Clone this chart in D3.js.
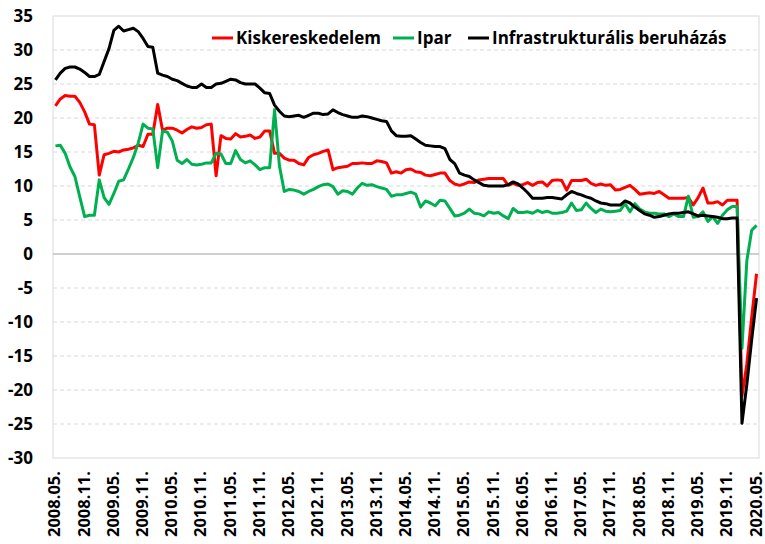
<!DOCTYPE html>
<html>
<head>
<meta charset="utf-8">
<script src="https://cdn.jsdelivr.net/npm/d3@7"></script>
<style>
    body { margin: 0; background: #fff; }
    text { font-family: "Open Sans", "Liberation Sans", sans-serif; font-weight: bold; fill: #000; }
</style>
</head>
<body>
<svg></svg>
<script>
// series names and colours
const seriesNames = ["Kiskereskedelem", "Ipar", "Infrastrukturális beruházás"]
const seriesColors = ["#ff0000", "#00b050", "#000000"]

// monthly values, 2008.05 - 2020.05
const kiskereskedelem = [
    21.8, 22.8, 23.3, 23.2, 23.2, 22.3, 20.9, 19.1, 19.0, 11.6, 14.6, 14.8, 15.1, 15.0, 15.3, 15.4, 15.6, 16.0, 15.8, 17.6, 17.6, 22.0, 18.2, 18.5, 18.5,
    18.2, 17.8, 18.3, 18.7, 18.5, 18.6, 19.0, 19.1, 11.5, 17.4, 17.0, 16.9, 17.7, 17.2, 17.3, 17.5, 17.0, 17.2, 18.1, 18.1, 14.8, 14.8, 14.1, 13.8,
    13.8, 13.3, 13.1, 14.2, 14.6, 14.8, 15.1, 15.3, 12.4, 12.7, 12.8, 12.9, 13.3, 13.3, 13.4, 13.3, 13.3, 13.7, 13.6, 13.4, 11.9, 12.1, 11.9, 12.4, 12.5,
    12.1, 12.0, 11.6, 11.5, 11.7, 11.9, 11.9, 10.8, 10.3, 10.1, 10.3, 10.6, 10.5, 10.9, 11.0, 11.1, 11.1, 11.1, 11.1, 10.1, 10.4, 10.1, 10.2, 10.5,
    10.1, 10.5, 10.6, 10.0, 10.8, 10.9, 10.8, 9.4, 10.8, 10.8, 10.8, 11.0, 10.4, 10.1, 10.3, 10.1, 10.2, 9.4, 9.5, 9.8, 10.1, 9.5, 8.8, 8.9,
    9.0, 8.9, 9.2, 8.7, 8.2, 8.2, 8.2, 8.2, 8.3, 7.2, 8.3, 9.7, 7.5, 7.5, 7.7, 7.2, 7.9, 7.9, 7.9, -20.9, -16.2, -9.3, -2.9
]
const ipar = [
    15.9, 16.0, 14.8, 12.8, 11.4, 8.4, 5.5, 5.7, 5.7, 10.9, 8.3, 7.3, 8.9, 10.7, 10.9, 12.5, 14.2, 16.3, 19.1, 18.5, 18.4, 12.7, 18.1, 17.9, 16.6,
    13.8, 13.3, 13.9, 13.2, 13.1, 13.2, 13.4, 13.4, 14.8, 14.7, 13.3, 13.3, 15.2, 13.9, 13.4, 13.7, 13.1, 12.4, 12.7, 12.7, 21.2, 13.0, 9.2, 9.5,
    9.4, 9.2, 8.8, 9.2, 9.5, 9.9, 10.2, 10.3, 9.9, 8.8, 9.3, 9.2, 8.8, 9.7, 10.4, 10.1, 10.2, 9.9, 9.7, 9.5, 8.5, 8.7, 8.7, 8.9, 9.1,
    8.8, 6.9, 7.8, 7.5, 7.1, 7.9, 7.8, 6.7, 5.6, 5.7, 6.0, 6.6, 6.0, 5.9, 5.6, 6.2, 6.0, 6.1, 5.6, 5.2, 6.7, 6.1, 6.1, 6.2,
    6.0, 6.4, 6.1, 6.3, 6.0, 6.0, 6.1, 6.3, 7.5, 6.4, 6.5, 7.5, 6.7, 6.1, 6.6, 6.3, 6.2, 6.3, 6.4, 7.4, 6.2, 7.4, 6.6, 6.2,
    6.0, 6.0, 5.9, 5.9, 5.5, 5.9, 5.5, 5.5, 8.5, 5.4, 5.5, 6.2, 4.8, 5.5, 4.5, 5.7, 6.5, 7.0, 7.0, -13.9, -1.0, 3.5, 4.2
]
const infrastruktura = [
    25.6, 26.6, 27.3, 27.5, 27.5, 27.2, 26.7, 26.1, 26.1, 26.4, 28.3, 30.2, 32.9, 33.5, 32.8, 33.0, 33.2, 32.7, 31.7, 30.5, 30.4, 26.6, 26.3, 26.1, 25.7,
    25.5, 25.1, 24.7, 24.5, 24.5, 25.0, 24.5, 24.5, 25.0, 25.1, 25.4, 25.7, 25.6, 25.2, 25.0, 25.0, 25.0, 24.4, 23.7, 23.6, 21.9, 21.0, 20.3, 20.2,
    20.3, 20.4, 20.1, 20.4, 20.7, 20.7, 20.5, 20.6, 21.2, 20.8, 20.5, 20.3, 20.1, 20.1, 20.3, 20.2, 20.0, 19.8, 19.6, 19.5, 18.1, 17.4, 17.3, 17.3, 17.4,
    16.9, 16.4, 16.0, 15.9, 15.8, 15.8, 15.5, 13.9, 13.3, 11.9, 11.6, 11.4, 10.9, 10.5, 10.1, 10.0, 10.0, 10.0, 10.0, 10.2, 10.6, 10.3, 9.7, 9.0,
    8.2, 8.2, 8.2, 8.3, 8.3, 8.2, 8.1, 8.7, 9.2, 8.9, 8.7, 8.4, 8.2, 7.8, 7.5, 7.4, 7.2, 7.2, 7.2, 7.8, 7.5, 6.9, 6.4, 5.9,
    5.7, 5.4, 5.5, 5.7, 5.9, 6.0, 6.0, 6.1, 6.2, 5.9, 5.6, 5.7, 5.6, 5.5, 5.4, 5.2, 5.2, 5.3, 5.3, -24.9, -19.2, -12.6, -6.5
]

const yTicks = [-30, -25, -20, -15, -10, -5, 0, 5, 10, 15, 20, 25, 30, 35]

// month categories 2008.05. ... 2020.05.
const months = []
for (let y = 2008; y <= 2020; y++) {
    for (let m = 1; m <= 12; m++) {
        if ((y === 2008 && m < 5) || (y === 2020 && m > 5)) continue
        months.push(y + "." + String(m).padStart(2, "0") + ".")
    }
}
const xTickLabels = months.filter((d, i) => i % 6 === 0)

const svgWidth = 765
const svgHeight = 544
const plot = { left: 53, right: 759, top: 16, bottom: 458 }

const svg = d3.select("svg")
    .attr("width", svgWidth)
    .attr("height", svgHeight)

const xScale = d3.scalePoint()
    .domain(months)
    .range([plot.left, plot.right])
    .padding(0.5)

const yScale = d3.scaleLinear()
    .domain([-30, 35])
    .range([plot.bottom, plot.top])

// dashed gridlines
svg.append("g")
    .selectAll("line")
    .data(yTicks.filter(d => d !== 0 && d !== -30 && d !== 35))
    .join("line")
    .attr("x1", plot.left)
    .attr("x2", plot.right)
    .attr("y1", d => yScale(d))
    .attr("y2", d => yScale(d))
    .attr("stroke", "#d9d9d9")
    .attr("stroke-width", 1)
    .attr("stroke-dasharray", "4,3")

// plot frame
svg.append("rect")
    .attr("x", plot.left)
    .attr("y", plot.top)
    .attr("width", plot.right - plot.left)
    .attr("height", plot.bottom - plot.top)
    .attr("fill", "none")
    .attr("stroke", "#d9d9d9")

// zero line
svg.append("line")
    .attr("x1", plot.left)
    .attr("x2", plot.right)
    .attr("y1", yScale(0))
    .attr("y2", yScale(0))
    .attr("stroke", "#a0a0a0")
    .attr("stroke-width", 1.2)

// y tick labels
svg.append("g")
    .selectAll("text")
    .data(yTicks)
    .join("text")
    .text(d => d)
    .attr("x", 33)
    .attr("y", d => yScale(d))
    .attr("dy", "0.35em")
    .attr("text-anchor", "end")
    .attr("font-size", 17)

// x tick labels, rotated
svg.append("g")
    .selectAll("text")
    .data(xTickLabels)
    .join("text")
    .text(d => d)
    .attr("transform", d => `translate(${xScale(d)},471) rotate(-90)`)
    .attr("dy", "0.3em")
    .attr("text-anchor", "end")
    .attr("font-size", 16.5)

// lines
const allSeries = [kiskereskedelem, ipar, infrastruktura]
const line = d3.line()
    .x((d, i) => xScale(months[i]))
    .y(d => yScale(d))

svg.append("g")
    .selectAll("path")
    .data(allSeries)
    .join("path")
    .attr("d", d => line(d))
    .attr("fill", "none")
    .attr("stroke", (d, i) => seriesColors[i])
    .attr("stroke-width", 3)
    .attr("stroke-linejoin", "round")

// legend
const legendX = [212, 393, 468]
const legend = svg.append("g")
    .selectAll("g")
    .data(seriesNames)
    .join("g")
    .attr("transform", (d, i) => `translate(${legendX[i]},38)`)

legend.append("line")
    .attr("x1", 0)
    .attr("x2", 21)
    .attr("stroke", (d, i) => seriesColors[i])
    .attr("stroke-width", 3)

legend.append("text")
    .text(d => d)
    .attr("x", 24)
    .attr("dy", "0.35em")
    .attr("font-size", 17)
</script>
</body>
</html>
